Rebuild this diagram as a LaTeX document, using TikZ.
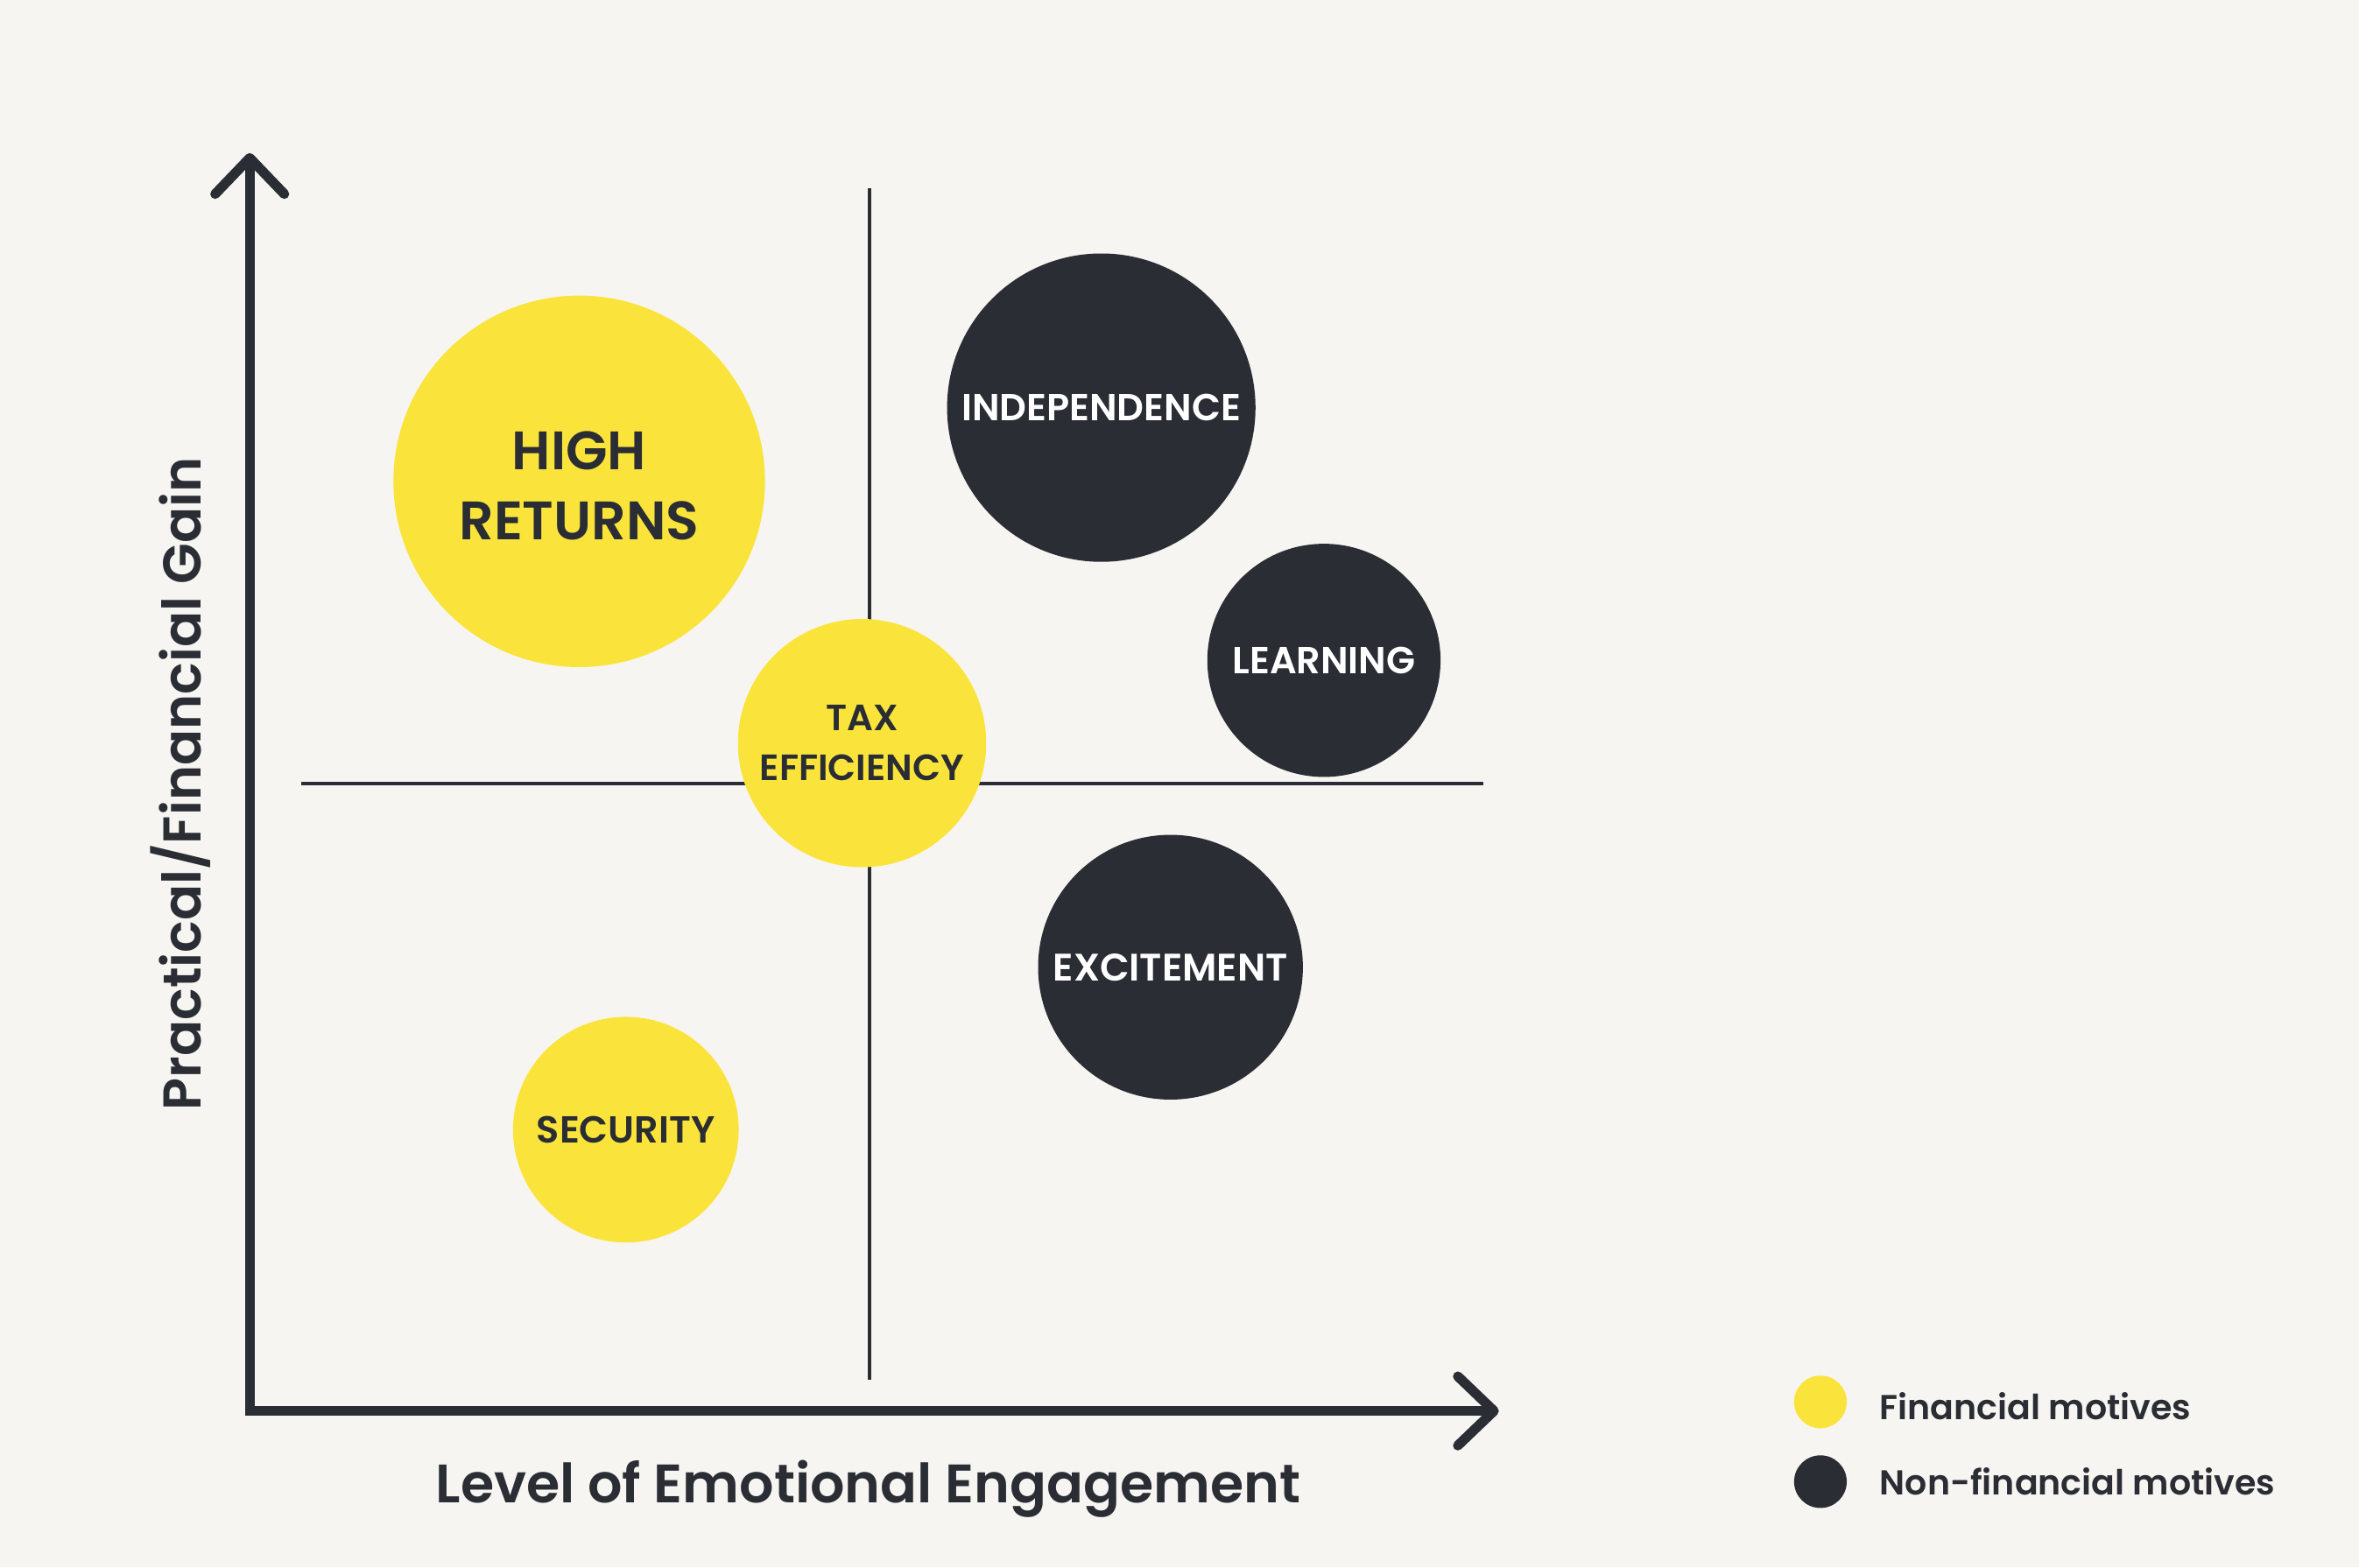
\documentclass[tikz,border=0pt]{standalone}
\usepackage{fontspec}
\setmainfont{Poppins}[BoldFont={Poppins SemiBold}]
\definecolor{bg}{HTML}{F7F5F1}
\definecolor{yel}{HTML}{FAE43B}
\definecolor{dark}{HTML}{2A2D34}
\tikzset{
  axisline/.style={draw=dark, line width=6.5pt, line cap=round, line join=round},
  divider/.style={draw=dark, line width=2pt},
  fin/.style={circle, fill=yel, text=dark, inner sep=0pt, align=center, font=\bfseries},
  nonfin/.style={circle, fill=dark, text=white, inner sep=0pt, align=center, font=\bfseries},
  legdot/.style={circle, inner sep=0pt, minimum size=35pt},
  legtext/.style={anchor=west, text=dark, font=\fontsize{23}{28}\selectfont\bfseries},
}
\begin{document}
\begin{tikzpicture}[x=1pt,y=-1pt]
\useasboundingbox[fill=bg] (0,0) rectangle (1568,1042);
% dividers
\coordinate (vtop) at (578,125);
\coordinate (vbot) at (578,917);
\coordinate (hl) at (200,521);
\coordinate (hr) at (986,521);
\draw[divider] (vtop) -- (vbot);
\draw[divider] (hl) -- (hr);
% axes
\coordinate (O) at (166,938);
\coordinate (ytip) at (166,105);
\coordinate (xtip) at (993,938);
\coordinate (ya) at (143,129);
\coordinate (yb) at (189,129);
\coordinate (xa) at (969,915);
\coordinate (xb) at (969,961);
\draw[axisline, line cap=butt, line join=miter] (ytip) -- (O) -- (xtip);
\draw[axisline] (ya) -- (ytip) -- (yb);
\draw[axisline] (xa) -- (xtip) -- (xb);
% circles
\node[fin, minimum size=247pt] (high) at (385,320) {};
\node[text=dark, align=center, font=\fontsize{36}{47}\selectfont\bfseries] (hightxt) at (385,323) {HIGH\\RETURNS};
\node[fin, minimum size=165pt, font=\fontsize{24.3}{33}\selectfont\bfseries] (tax) at (573,494) {TAX\\EFFICIENCY};
\node[fin, minimum size=150pt, font=\fontsize{25}{30}\selectfont\bfseries] (sec) at (416,751) {SECURITY};
\node[nonfin, minimum size=205pt, font=\fontsize{25}{30}\selectfont\bfseries] (ind) at (732,271) {INDEPENDENCE};
\node[nonfin, minimum size=155pt, font=\fontsize{25}{30}\selectfont\bfseries] (learn) at (880,439) {LEARNING};
\node[nonfin, minimum size=176pt, font=\fontsize{25.5}{30}\selectfont\bfseries] (exc) at (778,643) {EXCITEMENT};
% axis labels
\node[text=dark, font=\fontsize{36}{44}\selectfont\bfseries] (xlab) at (577,990) {Level of Emotional Engagement};
\node[text=dark, rotate=90, font=\fontsize{35.4}{44}\selectfont\bfseries] (ylab) at (120,521) {Practical/Financial Gain};
% legend
\node[legdot, fill=yel] (ldot1) at (1210,932) {};
\node[legdot, fill=dark] (ldot2) at (1210,985) {};
\node[legtext] (lt1) at (1246,935) {Financial motives};
\node[legtext] (lt2) at (1246,985) {Non-financial motives};
\end{tikzpicture}
\end{document}
